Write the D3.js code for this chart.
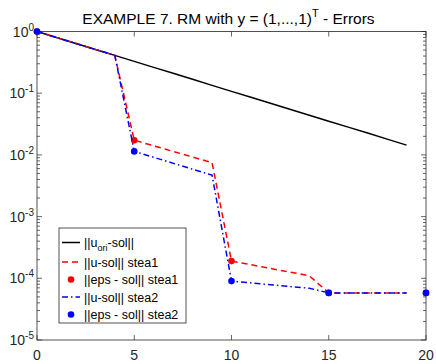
<!DOCTYPE html>
<html lang="en">
<head>
<meta charset="UTF-8">
<title>EXAMPLE 7</title>
<script src="https://cdn.jsdelivr.net/npm/d3@7"></script>
<style>
  body { margin: 0; background: #fff; }
  text { font-family: "Liberation Sans", Arial, sans-serif; }
</style>
</head>
<body>
<script>
    var width = 436;
    var height = 364;

    // data
    var xOri = [0, 1, 2, 3, 4, 5, 6, 7, 8, 9, 10, 11, 12, 13, 14, 15, 16, 17, 18, 19];
    var yOri = [1, 0.80, 0.64, 0.512, 0.41, 0.328, 0.262, 0.21, 0.168, 0.134, 0.107,
                0.086, 0.0688, 0.055, 0.044, 0.0352, 0.0282, 0.0226, 0.018, 0.0144];

    var xU1 = [0, 4, 5, 9, 10, 14, 15, 16, 17, 18, 19];
    var yU1 = [1, 0.41, 0.0173, 0.0075, 1.9e-4, 1.1e-4, 5.8e-5, 5.8e-5, 5.8e-5, 5.8e-5, 5.8e-5];

    var xU2 = [0, 4, 5, 9, 10, 14, 15, 16, 17, 18, 19];
    var yU2 = [1, 0.41, 0.0114, 0.0047, 9.0e-5, 6.9e-5, 5.8e-5, 5.8e-5, 5.8e-5, 5.8e-5, 5.8e-5];

    var xEps = [0, 5, 10, 15, 20];
    var yEps1 = [1, 0.0173, 1.9e-4, 5.8e-5, 5.8e-5];
    var yEps2 = [1, 0.0114, 9.0e-5, 5.8e-5, 5.8e-5];

    var xTicks = [0, 5, 10, 15, 20];
    var yExps = [0, -1, -2, -3, -4, -5];

    // plot box (window.top is read-only, so other names)
    var pL = 37, pR = 426, pT = 31.5, pB = 340;
    var axisColor = "#262626";

    var svg = d3.select("body").append("svg")
        .attr("width", width)
        .attr("height", height);

    var x = d3.scaleLinear().domain([0, 20]).range([pL, pR]);
    var y = d3.scaleLog().domain([1e-5, 1]).range([pB, pT]);

    // ticks (inside, both sides)
    var g = svg.append("g").attr("stroke", axisColor).attr("stroke-width", 0.7);
    xTicks.forEach(function (t) {
        g.append("line").attr("x1", x(t)).attr("x2", x(t)).attr("y1", pB).attr("y2", pB - 5);
        g.append("line").attr("x1", x(t)).attr("x2", x(t)).attr("y1", pT).attr("y2", pT + 5);
    });
    yExps.forEach(function (e) {
        var v = Math.pow(10, e);
        g.append("line").attr("x1", pL).attr("x2", pL + 5).attr("y1", y(v)).attr("y2", y(v));
        g.append("line").attr("x1", pR).attr("x2", pR - 5).attr("y1", y(v)).attr("y2", y(v));
        if (e > -5) {
            for (var m = 2; m <= 9; m++) {
                var mv = m * Math.pow(10, e - 1);
                g.append("line").attr("x1", pL).attr("x2", pL + 3).attr("y1", y(mv)).attr("y2", y(mv));
                g.append("line").attr("x1", pR).attr("x2", pR - 3).attr("y1", y(mv)).attr("y2", y(mv));
            }
        }
    });

    // box
    svg.append("rect")
        .attr("x", pL).attr("y", pT)
        .attr("width", pR - pL).attr("height", pB - pT)
        .attr("fill", "none").attr("stroke", axisColor).attr("stroke-width", 0.8);

    // tick labels
    svg.selectAll(".xl").data(xTicks).enter().append("text")
        .attr("x", function (d) { return x(d); })
        .attr("y", 360)
        .attr("text-anchor", "middle")
        .attr("font-size", 14)
        .attr("fill", axisColor)
        .text(function (d) { return d; });

    yExps.forEach(function (e) {
        var t = svg.append("text")
            .attr("x", pL - 3)
            .attr("y", y(Math.pow(10, e)) + 5)
            .attr("text-anchor", "end")
            .attr("font-size", 14)
            .attr("fill", axisColor);
        t.append("tspan").text("10");
        t.append("tspan").attr("dy", -6).attr("font-size", 10).text(e);
    });

    // title
    var title = svg.append("text")
        .attr("x", (pL + pR) / 2 - 3)
        .attr("y", 24)
        .attr("text-anchor", "middle")
        .attr("font-size", 15.5)
        .attr("fill", "#000");
    title.append("tspan").text("EXAMPLE 7. RM with y = (1,...,1)");
    title.append("tspan").attr("dy", -7).attr("font-size", 11).text("T");
    title.append("tspan").attr("dy", 7).text(" - Errors");

    function pts(xs, ys) {
        return xs.map(function (d, i) { return [d, ys[i]]; });
    }
    var line = d3.line()
        .x(function (d) { return x(d[0]); })
        .y(function (d) { return y(d[1]); });

    svg.append("path").datum(pts(xOri, yOri))
        .attr("d", line).attr("fill", "none")
        .attr("stroke", "#000").attr("stroke-width", 1.5);

    svg.append("path").datum(pts(xU1, yU1))
        .attr("d", line).attr("fill", "none")
        .attr("stroke", "#ff0000").attr("stroke-width", 1.5)
        .attr("stroke-dasharray", "6,4");

    svg.selectAll(".e1").data(pts(xEps, yEps1)).enter().append("circle")
        .attr("cx", function (d) { return x(d[0]); })
        .attr("cy", function (d) { return y(d[1]); })
        .attr("r", 3.3).attr("fill", "#ff0000");

    svg.append("path").datum(pts(xU2, yU2))
        .attr("d", line).attr("fill", "none")
        .attr("stroke", "#0000ff").attr("stroke-width", 1.5)
        .attr("stroke-dasharray", "6,3,1.5,3");

    svg.selectAll(".e2").data(pts(xEps, yEps2)).enter().append("circle")
        .attr("cx", function (d) { return x(d[0]); })
        .attr("cy", function (d) { return y(d[1]); })
        .attr("r", 3.3).attr("fill", "#0000ff");

    // legend
    var lg = svg.append("g");
    lg.append("rect")
        .attr("x", 59).attr("y", 228).attr("width", 127).attr("height", 95)
        .attr("fill", "#fff").attr("stroke", axisColor).attr("stroke-width", 0.8);

    var rows = [
        {y: 242.5, kind: "line", color: "#000", dash: null},
        {y: 262, kind: "line", color: "#ff0000", dash: "6,4"},
        {y: 279.5, kind: "dot", color: "#ff0000"},
        {y: 297, kind: "line", color: "#0000ff", dash: "6,3,1.5,3"},
        {y: 314.5, kind: "dot", color: "#0000ff"}
    ];
    var labels = ["||u-sol|| stea1", "||eps - sol|| stea1", "||u-sol|| stea2", "||eps - sol|| stea2"];

    rows.forEach(function (r, i) {
        if (r.kind === "line") {
            lg.append("line").attr("x1", 62).attr("x2", 80).attr("y1", r.y).attr("y2", r.y)
                .attr("stroke", r.color).attr("stroke-width", 1.5)
                .attr("stroke-dasharray", r.dash);
        } else {
            lg.append("circle").attr("cx", 71).attr("cy", r.y).attr("r", 3.3).attr("fill", r.color);
        }
        var t = lg.append("text").attr("x", 84).attr("y", r.y + 4.5)
            .attr("font-size", 12.5).attr("fill", "#000");
        if (i === 0) {
            t.append("tspan").text("||u");
            t.append("tspan").attr("dy", 4).attr("font-size", 9).text("ori");
            t.append("tspan").attr("dy", -4).text("-sol||");
        } else {
            t.text(labels[i - 1]);
        }
    });
</script>
</body>
</html>
